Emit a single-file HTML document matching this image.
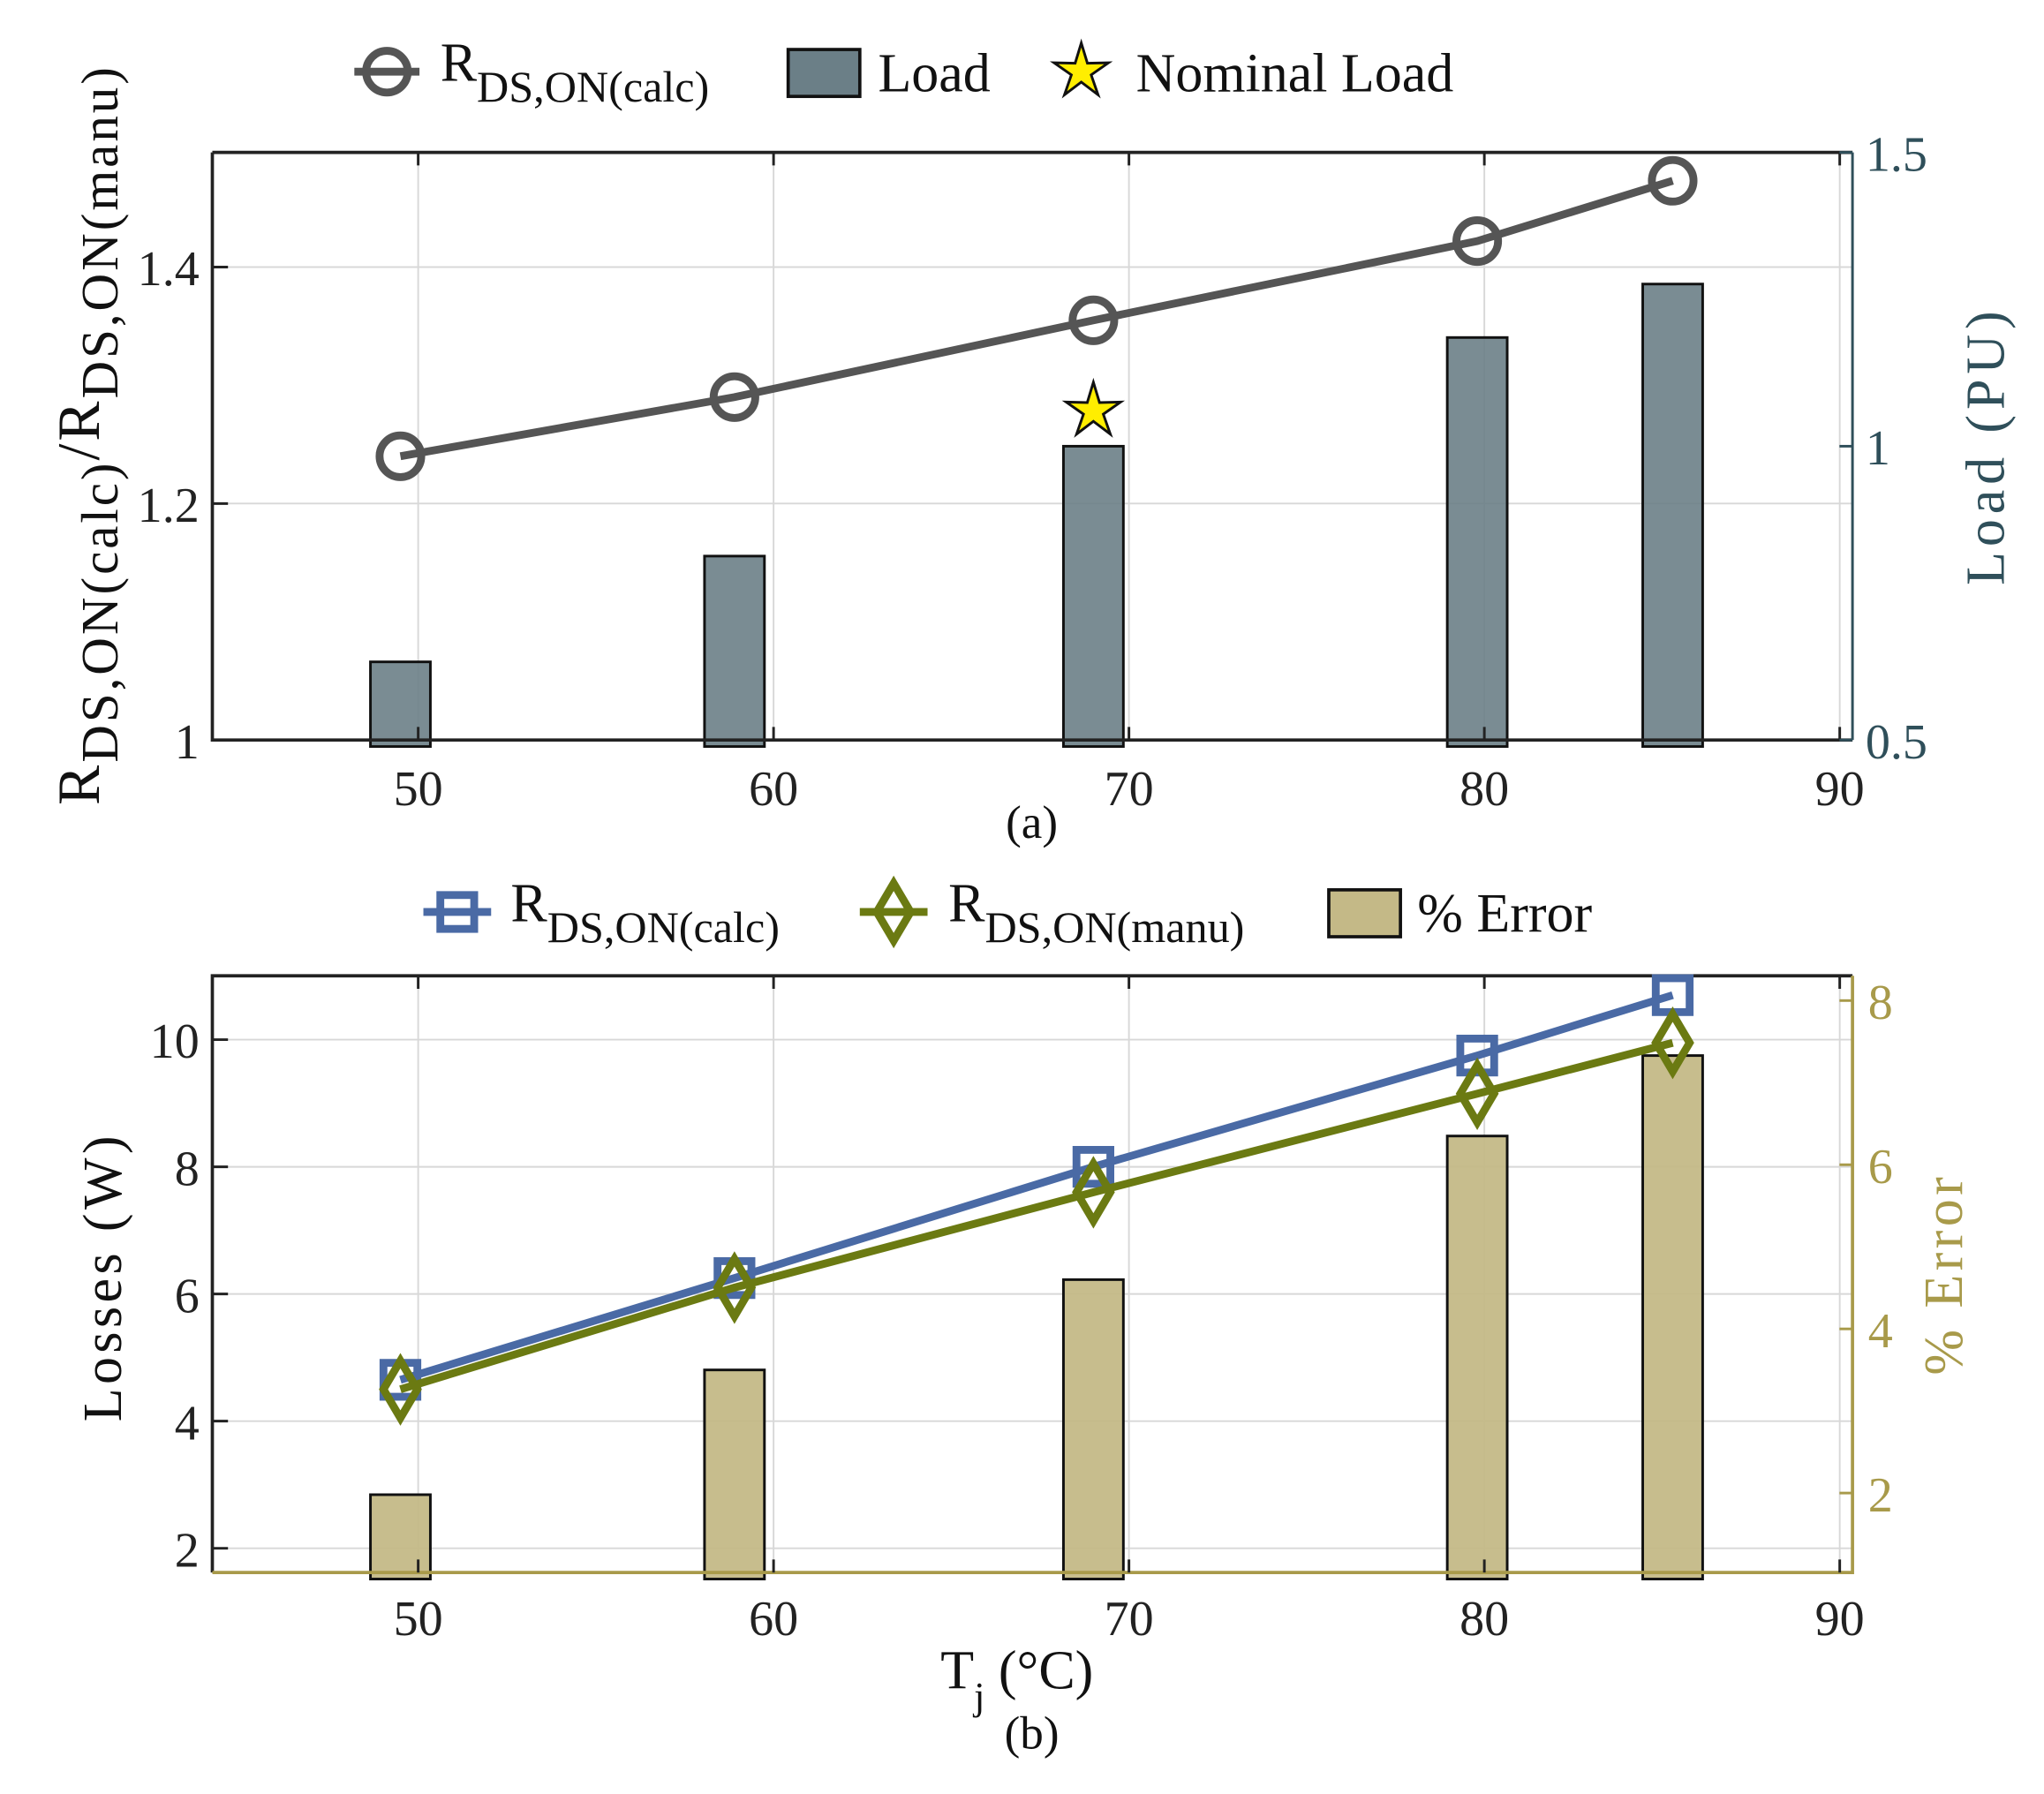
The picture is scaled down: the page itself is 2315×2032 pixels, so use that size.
<!DOCTYPE html>
<html><head><meta charset="utf-8"><style>
html,body{margin:0;padding:0;background:#fff;}
svg{display:block;font-family:"Liberation Serif",serif;}
</style></head><body>
<svg id="fig" width="2315" height="2032" viewBox="0 0 1569 1377" preserveAspectRatio="none" xmlns="http://www.w3.org/2000/svg">
<g id="a"></g>
<g id="b"></g>
</svg>
<script>
const temps = [49.5, 58.9, 69, 79.8, 85.3];
const rRatio = [1.24, 1.29, 1.355, 1.422, 1.473];
const loads = [0.633, 0.813, 1.0, 1.185, 1.276];
const nominalIdx = 2;
const nominalVal = 1.06;
const xTicks = [50, 60, 70, 80, 90];
const aLeftTicks = [1, 1.2, 1.4];
const aLeftLabels = ['1', '1.2', '1.4'];
const aRightTicks = [0.5, 1, 1.5];
const aRightLabels = ['0.5', '1', '1.5'];
const lossCalc = [4.65, 6.25, 8.0, 9.75, 10.7];
const lossManu = [4.5, 6.1, 7.6, 9.15, 9.95];
const pctErr = [1.98, 3.5, 4.6, 6.35, 7.33];
const bLeftTicks = [2, 4, 6, 8, 10];
const bRightTicks = [2, 4, 6, 8];

const NS = 'http://www.w3.org/2000/svg';
function mk(parent, tag, attrs, text) {
  const e = document.createElementNS(NS, tag);
  for (const k in attrs) e.setAttribute(k, attrs[k]);
  if (text !== undefined) e.textContent = text;
  parent.appendChild(e);
  return e;
}
const L = 163, R = 1422;
const xs = v => 321 + (v - 50) * 27.28;

/* ---------- Chart A ---------- */
(function(){
  const g = document.getElementById('a');
  const T = 117, B = 568;
  const yl = v => 568 - (v - 1) * 907.5;
  const yr = v => 568 - (v - 0.5) * 451;
  xTicks.forEach(t => { const e = mk(g,'line',{x1:xs(t),x2:xs(t),y1:T,y2:B,stroke:'#d8d8d8','stroke-width':1.3});
      });
  aLeftTicks.forEach(t => { if (t>1){ const e = mk(g,'line',{x1:L,x2:R,y1:yl(t),y2:yl(t),stroke:'#d8d8d8','stroke-width':1.3});
      }});
  temps.forEach((t,i) => { const e = mk(g,'rect',{x:xs(t)-23,y:yr(loads[i]),width:46,height:B+5-yr(loads[i]),fill:'#6b7f87','fill-opacity':0.9,stroke:'#111','stroke-width':2});
      });
  let e = mk(g,'path',{d:`M${L},${T}H${R}M${L},${T}V${B}H${R}`,stroke:'#222','stroke-width':2.5,fill:'none'});
   
  e = mk(g,'line',{x1:R,x2:R,y1:T,y2:B,stroke:'#2f4f5a','stroke-width':2});
   
  xTicks.forEach(t => { const e = mk(g,'path',{d:`M${xs(t)},${B}v-10M${xs(t)},${T}v10`,stroke:'#222','stroke-width':2});
     
    const l = mk(g,'text',{x:xs(t),y:B+50,'font-size':38,'text-anchor':'middle',fill:'#222'},String(t));
      });
  aLeftTicks.forEach((t,i) => { const e = mk(g,'line',{x1:L,x2:L+12,y1:yl(t),y2:yl(t),stroke:'#222','stroke-width':2});
     
    const l = mk(g,'text',{x:L-10,y:yl(t)+14,'font-size':38,'text-anchor':'end',fill:'#222'},aLeftLabels[i]);
      });
  aRightTicks.forEach((t,i) => { const e = mk(g,'line',{x1:R,x2:R-10,y1:yr(t),y2:yr(t),stroke:'#2f4f5a','stroke-width':2});
     
    const l = mk(g,'text',{x:R+10,y:yr(t)+14,'font-size':38,fill:'#2f4f5a'},aRightLabels[i]);
      });
  e = mk(g,'polyline',{points:temps.map((t,i)=>xs(t)+','+yl(rRatio[i])).join(' '),fill:'none',stroke:'#555','stroke-width':6});
   
  temps.forEach((t,i) => { const c = mk(g,'circle',{cx:xs(t),cy:yl(rRatio[i]),r:16,fill:'none',stroke:'#555','stroke-width':6});
      });
  const sx = xs(temps[nominalIdx]), sy = yr(nominalVal);
  let pts = []; for (let k=0;k<10;k++){ const rr = k%2?8:22; const a = -Math.PI/2 + k*Math.PI/5; pts.push((sx+rr*Math.cos(a)).toFixed(1)+','+(sy+rr*Math.sin(a)).toFixed(1)); }
  e = mk(g,'polygon',{points:pts.join(' '),fill:'#ffee00',stroke:'#111','stroke-width':2});
   
  e = mk(g,'text',{transform:'translate(76,618) rotate(-90)','font-size':46,fill:'#111','letter-spacing':2});
   
  e.innerHTML = 'R<tspan dy="14" font-size="40">DS,ON(calc)</tspan><tspan dy="-14">/R</tspan><tspan dy="14" font-size="40">DS,ON(manu)</tspan>';
  e = mk(g,'text',{transform:'translate(1538,342) rotate(-90)','font-size':42,'text-anchor':'middle',fill:'#2f4f5a','letter-spacing':4},'Load (PU)');
   
  e = mk(g,'text',{x:792,y:643,'font-size':36,'text-anchor':'middle',fill:'#111'},'(a)');
   
  const lg = mk(g,'g',{});  
  e = mk(lg,'line',{x1:272,x2:322,y1:55,y2:55,stroke:'#555','stroke-width':6});  
  e = mk(lg,'circle',{cx:297,cy:55,r:16,fill:'none',stroke:'#555','stroke-width':6});  
  e = mk(lg,'text',{x:338,y:62,'font-size':42,fill:'#111'}); e.innerHTML='R<tspan dy="16" font-size="34">DS,ON(calc)</tspan>';
   
  e = mk(lg,'rect',{x:605,y:38,width:55,height:36,fill:'#6b7f87',stroke:'#111','stroke-width':2.5});  
  e = mk(lg,'text',{x:674,y:70,'font-size':42,fill:'#111'},'Load');  
  pts=[]; for (let k=0;k<10;k++){ const rr = k%2?8:22; const a = -Math.PI/2 + k*Math.PI/5; pts.push((830+rr*Math.cos(a)).toFixed(1)+','+(55+rr*Math.sin(a)).toFixed(1)); }
  e = mk(lg,'polygon',{points:pts.join(' '),fill:'#ffee00',stroke:'#111','stroke-width':2});  
  e = mk(lg,'text',{x:872,y:70,'font-size':42,fill:'#111'},'Nominal Load');  
})();

/* ---------- Chart B ---------- */
(function(){
  const g = document.getElementById('b');
  const T = 749, B = 1207;
  const yl = v => 798 - (v - 10) * 48.8;
  const yr = v => 768 - (v - 8) * 63;
  const ol = '#a89a4a';
  xTicks.forEach(t => { const e = mk(g,'line',{x1:xs(t),x2:xs(t),y1:T,y2:B,stroke:'#d8d8d8','stroke-width':1.3});
      });
  bLeftTicks.forEach(t => { const e = mk(g,'line',{x1:L,x2:R,y1:yl(t),y2:yl(t),stroke:'#d8d8d8','stroke-width':1.3});
      });
  temps.forEach((t,i) => { const e = mk(g,'rect',{x:xs(t)-23,y:yr(pctErr[i]),width:46,height:B+5-yr(pctErr[i]),fill:'#c4b987','fill-opacity':0.95,stroke:'#111','stroke-width':2});
      });
  let e = mk(g,'path',{d:`M${L},${B}V${T}H${R}`,stroke:'#222','stroke-width':2.5,fill:'none'});
   
  e = mk(g,'path',{d:`M${L},${B}H${R}V${T}`,stroke:ol,'stroke-width':2.5,fill:'none'});
   
  xTicks.forEach(t => { const e = mk(g,'path',{d:`M${xs(t)},${B}v-10M${xs(t)},${T}v10`,stroke:'#222','stroke-width':2});
     
    const l = mk(g,'text',{x:xs(t),y:B+48,'font-size':38,'text-anchor':'middle',fill:'#222'},String(t));
      });
  bLeftTicks.forEach(t => { const e = mk(g,'line',{x1:L,x2:L+12,y1:yl(t),y2:yl(t),stroke:'#222','stroke-width':2});
     
    const l = mk(g,'text',{x:L-10,y:yl(t)+14,'font-size':38,'text-anchor':'end',fill:'#222'},String(t));
      });
  bRightTicks.forEach(t => { const e = mk(g,'line',{x1:R,x2:R-10,y1:yr(t),y2:yr(t),stroke:ol,'stroke-width':2});
     
    const l = mk(g,'text',{x:R+12,y:yr(t)+14,'font-size':38,fill:ol},String(t));
      });
  e = mk(g,'polyline',{points:temps.map((t,i)=>xs(t)+','+yl(lossCalc[i])).join(' '),fill:'none',stroke:'#4a6aa5','stroke-width':6});
   
  temps.forEach((t,i) => { const c = mk(g,'rect',{x:xs(t)-13,y:yl(lossCalc[i])-13,width:26,height:26,fill:'none',stroke:'#4a6aa5','stroke-width':6});
      });
  e = mk(g,'polyline',{points:temps.map((t,i)=>xs(t)+','+yl(lossManu[i])).join(' '),fill:'none',stroke:'#6b7a12','stroke-width':6});
   
  temps.forEach((t,i) => { const x=xs(t), y=yl(lossManu[i]);
    const c = mk(g,'polygon',{points:`${x},${y-22} ${x+13},${y} ${x},${y+22} ${x-13},${y}`,fill:'none',stroke:'#6b7a12','stroke-width':6});
      });
  e = mk(g,'text',{transform:'translate(93,980) rotate(-90)','font-size':42,'text-anchor':'middle',fill:'#111','letter-spacing':3},'Losses (W)');
   
  e = mk(g,'text',{transform:'translate(1506,978) rotate(-90)','font-size':42,'text-anchor':'middle',fill:ol,'letter-spacing':3},'% Error');
   
  e = mk(g,'text',{x:722,y:1296,'font-size':42,fill:'#111'}); e.innerHTML='T<tspan dy="16" font-size="30">j</tspan><tspan dy="-16"> (°C)</tspan>';
   
  e = mk(g,'text',{x:792,y:1342,'font-size':36,'text-anchor':'middle',fill:'#111'},'(b)');
   
  const lg = mk(g,'g',{});  
  e = mk(lg,'line',{x1:325,x2:377,y1:700,y2:700,stroke:'#4a6aa5','stroke-width':6});  
  e = mk(lg,'rect',{x:338,y:687,width:26,height:26,fill:'none',stroke:'#4a6aa5','stroke-width':6});  
  e = mk(lg,'text',{x:392,y:707,'font-size':42,fill:'#111'}); e.innerHTML='R<tspan dy="16" font-size="34">DS,ON(calc)</tspan>';
   
  e = mk(lg,'line',{x1:660,x2:712,y1:700,y2:700,stroke:'#6b7a12','stroke-width':6});  
  e = mk(lg,'polygon',{points:'686,678 699,700 686,722 673,700',fill:'none',stroke:'#6b7a12','stroke-width':6});  
  e = mk(lg,'text',{x:728,y:707,'font-size':42,fill:'#111'}); e.innerHTML='R<tspan dy="16" font-size="34">DS,ON(manu)</tspan>';
   
  e = mk(lg,'rect',{x:1020,y:683,width:55,height:36,fill:'#c4b987',stroke:'#111','stroke-width':2.5});  
  e = mk(lg,'text',{x:1088,y:715,'font-size':42,fill:'#111'},'% Error');  
})();
</script>
</body></html>
